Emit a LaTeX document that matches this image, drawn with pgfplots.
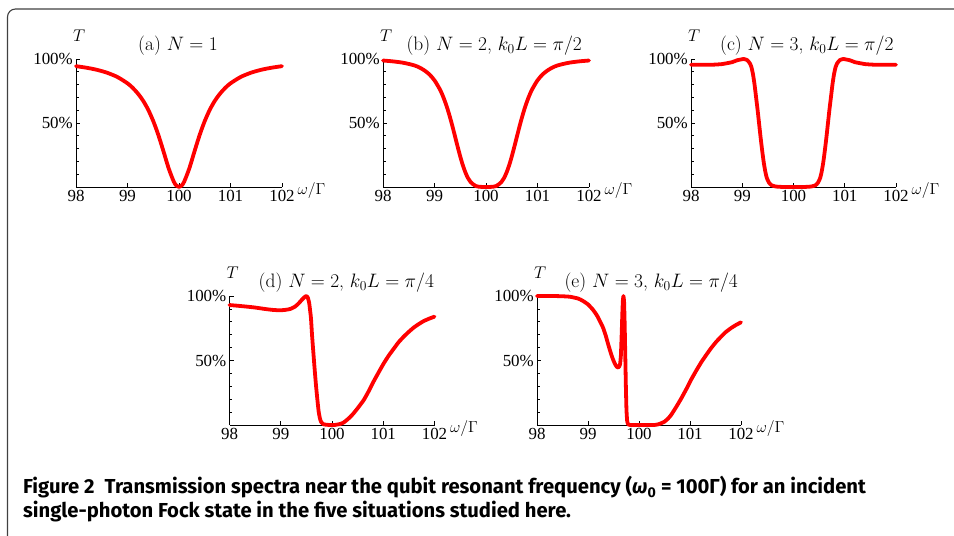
\RequirePackage{fix-cm}
\documentclass[border=0pt]{standalone}
\usepackage{fontspec}
\usepackage{pgfplots}
\pgfplotsset{compat=1.18}
\newfontfamily\capfont{Fira Sans}
\newfontfamily\timesf{Liberation Serif}
\newcommand{\tf}{\timesf\fontsize{17}{19}\selectfont}

\pgfplotsset{
  panel/.style={
    scale only axis, width=206bp, height=128bp,
    xmin=98, xmax=102, ymin=0, ymax=1,
    axis lines=left, axis line style={line width=0.8bp, -},
    tick align=inside,
    xtick={98,99,100,101,102},
    xticklabels={{\tf 98},{\tf 99},{\tf 100},{\tf 101},{\tf 102}},
    ytick={0.5,1}, yticklabels={{\tf 50\%},{\tf 100\%}},
    minor ytick={0.1,0.2,0.3,0.4,0.6,0.7,0.8,0.9},
    major tick length=4bp, minor tick length=2.5bp,
    every tick/.style={black, line width=0.6bp},
    every tick label/.append style={inner sep=3bp},
    clip=false,
  },
  curve/.style={red, line width=3.8bp, line join=round, line cap=round},
}
\newcommand{\decor}[2]{%
  \node[anchor=base, font=\fontsize{19.5}{21}\selectfont, yshift=8bp] at (rel axis cs:#1,1) {#2};
  \node[anchor=base, font=\fontsize{17}{20}\selectfont, yshift=17bp] at (rel axis cs:0.015,1) {$T$};
  \node[anchor=base west, font=\fontsize{16}{18}\selectfont, xshift=12bp, yshift=-8bp] at (rel axis cs:1,0) {$\omega/\Gamma$};
}

\begin{document}
\begin{tikzpicture}
\path[use as bounding box] (0,0) rectangle (954bp,536bp);
\draw[line width=1.1bp, color=black!75] (7.5bp,0) -- (7.5bp,519bp) arc[start angle=180,end angle=90,radius=8bp] -- (954bp,527bp);

% (a)
\begin{axis}[panel, at={(76bp,349bp)}, anchor=south west]
\addplot[curve, smooth] coordinates {(98.0,0.944)(98.2,0.932)(98.4,0.916)(98.6,0.893)(98.8,0.860)(99.0,0.810)(99.1,0.775)(99.2,0.731)(99.3,0.676)(99.4,0.605)(99.5,0.515)(99.6,0.405)(99.7,0.277)(99.8,0.145)(99.9,0.041)(99.95,0.011)(100,0)(100.05,0.011)(100.1,0.041)(100.2,0.145)(100.3,0.277)(100.4,0.405)(100.5,0.515)(100.6,0.605)(100.7,0.676)(100.8,0.731)(100.9,0.775)(101.0,0.810)(101.2,0.860)(101.4,0.893)(101.6,0.916)(101.8,0.932)(102.0,0.944)};
\decor{0.495}{(a) $N=1$}
\end{axis}

% (b)
\begin{axis}[panel, at={(383bp,349bp)}, anchor=south west]
\addplot[curve, smooth] coordinates {(98.0,0.988)(98.2,0.981)(98.4,0.970)(98.6,0.951)(98.7,0.935)(98.8,0.912)(98.9,0.880)(99.0,0.833)(99.1,0.766)(99.15,0.723)(99.2,0.672)(99.25,0.613)(99.3,0.546)(99.35,0.472)(99.4,0.393)(99.45,0.314)(99.5,0.238)(99.55,0.170)(99.6,0.114)(99.65,0.070)(99.7,0.039)(99.8,0.008)(99.9,0.001)(100,0)(100.1,0.001)(100.2,0.008)(100.3,0.039)(100.35,0.070)(100.4,0.114)(100.45,0.170)(100.5,0.238)(100.55,0.314)(100.6,0.393)(100.65,0.472)(100.7,0.546)(100.75,0.613)(100.8,0.672)(100.85,0.723)(100.9,0.766)(101.0,0.833)(101.1,0.880)(101.2,0.912)(101.3,0.935)(101.4,0.951)(101.6,0.970)(101.8,0.981)(102,0.988)};
\decor{0.54}{(b) $N=2$, $k_0L=\pi/2$}
\end{axis}

% (c)
\begin{axis}[panel, width=205bp, at={(691bp,349bp)}, anchor=south west]
\addplot[curve, smooth, tension=0.3] coordinates {(98.0,0.955)(98.2,0.955)(98.4,0.955)(98.6,0.96)(98.8,0.975)(98.9,0.99)(99.03,1.0)(99.1,0.99)(99.15,0.965)(99.18,0.935)(99.21,0.88)(99.24,0.80)(99.27,0.70)(99.30,0.60)(99.33,0.49)(99.36,0.38)(99.39,0.28)(99.42,0.19)(99.45,0.12)(99.48,0.07)(99.52,0.035)(99.57,0.014)(99.65,0.004)(99.8,0.0)(100,0)(100.2,0.0)(100.35,0.004)(100.43,0.014)(100.48,0.035)(100.52,0.07)(100.55,0.12)(100.58,0.19)(100.61,0.28)(100.64,0.38)(100.67,0.49)(100.70,0.60)(100.73,0.70)(100.76,0.80)(100.79,0.88)(100.82,0.935)(100.85,0.965)(100.9,0.99)(100.97,1.0)(101.1,0.99)(101.2,0.975)(101.4,0.96)(101.6,0.955)(101.8,0.955)(102,0.955)};
\decor{0.565}{(c) $N=3$, $k_0L=\pi/2$}
\end{axis}

% (d)
\begin{axis}[panel, width=205bp, height=129bp, at={(229.5bp,111bp)}, anchor=south west]
\addplot[curve, smooth, tension=0.3] coordinates {(98.0,0.93)(98.25,0.921)(98.47,0.912)(98.7,0.899)(98.85,0.892)(98.99,0.889)(99.1,0.893)(99.19,0.90)(99.28,0.918)(99.35,0.943)(99.41,0.97)(99.46,0.99)(99.50,1.0)(99.53,0.985)(99.555,0.945)(99.575,0.88)(99.59,0.827)(99.61,0.70)(99.635,0.568)(99.66,0.44)(99.687,0.31)(99.715,0.195)(99.74,0.103)(99.765,0.05)(99.79,0.022)(99.84,0.005)(99.95,0.0)(100.05,0.0)(100.16,0.008)(100.23,0.02)(100.29,0.039)(100.35,0.06)(100.42,0.09)(100.52,0.14)(100.62,0.194)(100.72,0.265)(100.81,0.336)(100.91,0.408)(101.01,0.478)(101.11,0.54)(101.21,0.594)(101.30,0.642)(101.40,0.685)(101.50,0.723)(101.60,0.757)(101.70,0.784)(101.79,0.806)(101.9,0.825)(102.0,0.84)};
\decor{0.57}{(d) $N=2$, $k_0L=\pi/4$}
\end{axis}

% (e)
\begin{axis}[panel, width=204bp, height=129bp, at={(537bp,111bp)}, anchor=south west]
\addplot[curve, smooth, tension=0.25] coordinates {(98.0,1.0)(98.3,1.0)(98.5,0.998)(98.65,0.994)(98.81,0.98)(98.9,0.962)(99.0,0.935)(99.09,0.897)(99.17,0.853)(99.24,0.80)(99.30,0.75)(99.35,0.69)(99.39,0.633)(99.43,0.58)(99.47,0.53)(99.51,0.49)(99.54,0.465)(99.57,0.449)(99.595,0.446)(99.615,0.455)(99.63,0.475)(99.645,0.54)(99.66,0.70)(99.672,0.85)(99.683,0.96)(99.695,1.0)(99.707,0.96)(99.718,0.80)(99.73,0.56)(99.742,0.31)(99.754,0.12)(99.768,0.03)(99.79,0.004)(99.85,0.0)(100.3,0.0)(100.4,0.008)(100.50,0.026)(100.57,0.05)(100.63,0.078)(100.73,0.14)(100.83,0.207)(100.93,0.28)(101.02,0.35)(101.12,0.42)(101.22,0.486)(101.32,0.544)(101.41,0.594)(101.51,0.643)(101.61,0.685)(101.70,0.72)(101.80,0.75)(101.9,0.775)(102.0,0.796)};
\decor{0.56}{(e) $N=3$, $k_0L=\pi/4$}
\end{axis}

\node[anchor=base west, inner sep=0, font=\capfont\bfseries\fontsize{20.3}{24}\selectfont] at (23bp,42bp) {Figure 2\hspace{0.5em}Transmission spectra near the qubit resonant frequency ({\itshape ω}\textsubscript{0} = 100Γ) for an incident};
\node[anchor=base west, inner sep=0, font=\capfont\bfseries\fontsize{20.3}{24}\selectfont] at (23bp,18.5bp) {single-photon Fock state in the five situations studied here.};
\end{tikzpicture}
\end{document}
